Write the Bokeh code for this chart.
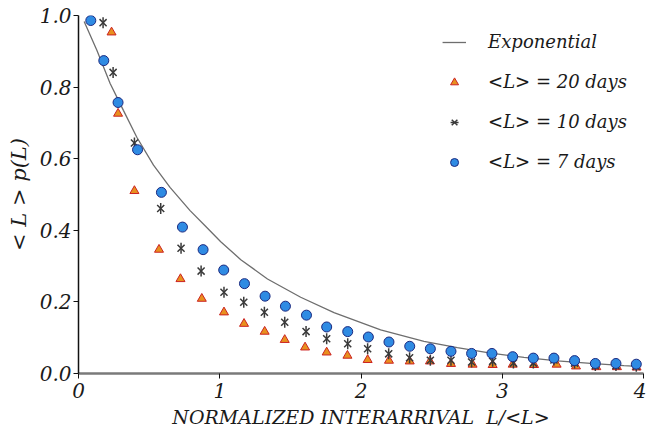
from bokeh.plotting import figure
from bokeh.models import Range1d, Legend, LegendItem, FixedTicker
from bokeh.embed import file_html
from bokeh.resources import INLINE
import math

# Exponential reference curve
exp_x = [0.040, 0.130, 0.224, 0.318, 0.413, 0.531, 0.648, 0.790, 0.903, 1.007,
         1.149, 1.338, 1.573, 1.809, 2.139, 2.446, 2.682, 2.918, 3.154, 3.390,
         3.626, 3.861, 3.956]
exp_y = [0.983, 0.903, 0.810, 0.735, 0.660, 0.582, 0.520, 0.455, 0.410, 0.368,
         0.318, 0.264, 0.213, 0.170, 0.122, 0.090, 0.072, 0.057, 0.045, 0.035,
         0.028, 0.022, 0.020]

# <L> = 20 days (triangles)
d20_x = [0.234, 0.280, 0.396, 0.570, 0.722, 0.873, 1.030, 1.172, 1.318, 1.460,
         1.604, 1.757, 1.904, 2.047, 2.198, 2.345, 2.488, 2.637, 2.790, 2.932,
         3.074, 3.225, 3.385, 3.522, 3.666, 3.812, 3.951]
d20_y = [0.953, 0.726, 0.510, 0.346, 0.264, 0.209, 0.171, 0.139, 0.117, 0.094,
         0.073, 0.059, 0.050, 0.038, 0.036, 0.034, 0.034, 0.027, 0.025, 0.024,
         0.025, 0.024, 0.025, 0.020, 0.018, 0.018, 0.017]

# <L> = 10 days (stars)
d10_x = [0.174, 0.245, 0.396, 0.582, 0.726, 0.868, 1.030, 1.170, 1.316, 1.460,
         1.611, 1.757, 1.906, 2.047, 2.196, 2.344, 2.491, 2.637, 2.783, 2.932,
         3.079, 3.220, 3.366, 3.512, 3.659, 3.805, 3.949]
d10_y = [0.980, 0.841, 0.644, 0.461, 0.350, 0.286, 0.227, 0.199, 0.171, 0.143,
         0.117, 0.097, 0.083, 0.069, 0.055, 0.044, 0.037, 0.037, 0.032, 0.034,
         0.029, 0.029, 0.038, 0.029, 0.022, 0.022, 0.020]

# <L> = 7 days (circles)
d7_x = [0.087, 0.179, 0.280, 0.418, 0.587, 0.736, 0.882, 1.028, 1.175, 1.321,
        1.465, 1.614, 1.757, 1.906, 2.052, 2.198, 2.345, 2.491, 2.637, 2.783,
        2.927, 3.074, 3.220, 3.366, 3.512, 3.659, 3.805, 3.949]
d7_y = [0.986, 0.874, 0.757, 0.625, 0.506, 0.409, 0.346, 0.289, 0.251, 0.216,
        0.188, 0.163, 0.130, 0.117, 0.102, 0.088, 0.076, 0.069, 0.062, 0.056,
        0.056, 0.047, 0.043, 0.043, 0.036, 0.028, 0.028, 0.026]

x_ticks = [0, 1, 2, 3, 4]
y_ticks = [0.0, 0.2, 0.4, 0.6, 0.8, 1.0]

FONT = "DejaVu Serif"

p = figure(width=646, height=435, output_backend="svg", toolbar_location=None,
           x_range=Range1d(0, 4), y_range=Range1d(0, 1.0),
           min_border_left=78, min_border_right=3, min_border_top=15, min_border_bottom=62)
p.outline_line_color = None
p.xgrid.visible = False
p.ygrid.visible = False
p.background_fill_color = "white"
p.border_fill_color = "white"

r_exp = p.line(exp_x, exp_y, line_color="#6e6e6e", line_width=1.3)
r20 = p.scatter(d20_x, d20_y, marker="triangle", size=9,
                fill_color="#e8901e", line_color="#cc2222", line_width=1)
r10a = p.scatter(d10_x, d10_y, marker="x", size=10, line_color="#3a3a3a", line_width=1.5)
r10b = p.scatter(d10_x, d10_y, marker="dash", size=11, angle=math.pi / 2,
                 line_color="#3a3a3a", line_width=1.5)
r7 = p.scatter(d7_x, d7_y, marker="circle", size=10,
               fill_color="#2f8be3", line_color="#1c2a80", line_width=1)

xa = p.xaxis[0]
xa.ticker = FixedTicker(ticks=x_ticks)
xa.axis_line_color = "#7a7a7a"
xa.axis_line_width = 2.5
xa.major_tick_line_color = "#111111"
xa.major_tick_in = 0
xa.major_tick_out = 5
xa.minor_tick_line_color = None
xa.major_label_text_font = FONT
xa.major_label_text_font_style = "italic"
xa.major_label_text_font_size = "20px"
xa.major_label_text_color = "#1a1a1a"
xa.major_label_standoff = 4
xa.axis_label = "NORMALIZED INTERARRIVAL\u00a0\u00a0L/<L>"
xa.axis_label_text_font = FONT
xa.axis_label_text_font_style = "italic"
xa.axis_label_text_font_size = "19px"
xa.axis_label_text_color = "#1a1a1a"
xa.axis_label_standoff = 5

ya = p.yaxis[0]
ya.ticker = FixedTicker(ticks=y_ticks)
ya.major_label_overrides = {0.0: "0.0", 1.0: "1.0"}
ya.axis_line_color = "#111111"
ya.axis_line_width = 1.5
ya.major_tick_line_color = "#111111"
ya.major_tick_in = 0
ya.major_tick_out = 5
ya.minor_tick_line_color = None
ya.major_label_text_font = FONT
ya.major_label_text_font_style = "italic"
ya.major_label_text_font_size = "20px"
ya.major_label_text_color = "#1a1a1a"
ya.major_label_standoff = 2
ya.axis_label = "< L > p(L)"
ya.axis_label_text_font = FONT
ya.axis_label_text_font_style = "italic"
ya.axis_label_text_font_size = "21px"
ya.axis_label_text_color = "#1a1a1a"
ya.axis_label_standoff = 6

legend = Legend(items=[
    LegendItem(label="Exponential", renderers=[r_exp]),
    LegendItem(label="<L> = 20 days", renderers=[r20]),
    LegendItem(label="<L> = 10 days", renderers=[r10a, r10b]),
    LegendItem(label="<L> = 7 days", renderers=[r7]),
], location="top_right")
legend.border_line_color = None
legend.background_fill_alpha = 0
legend.padding = 0
legend.margin = 16
legend.spacing = 19
legend.glyph_width = 24
legend.glyph_height = 20
legend.label_height = 20
legend.label_standoff = 22
legend.label_text_font = FONT
legend.label_text_font_style = "italic"
legend.label_text_font_size = "18px"
legend.label_text_color = "#1a1a1a"
p.add_layout(legend)

open("out.html", "w").write(file_html(p, INLINE))
